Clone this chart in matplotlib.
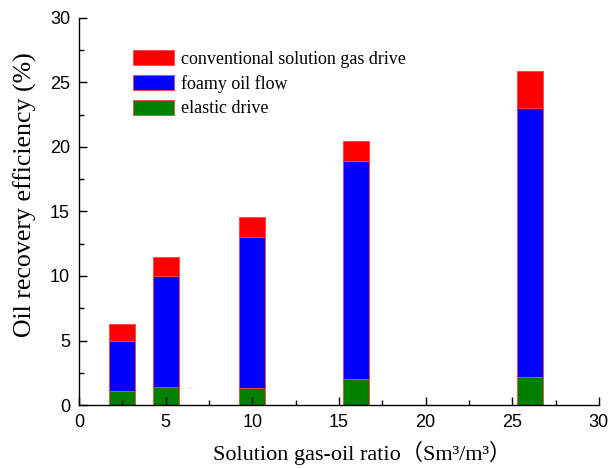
import matplotlib
matplotlib.use("Agg")
import matplotlib.pyplot as plt
from matplotlib.ticker import MultipleLocator

# Solution gas-oil ratio (Sm3/m3) for each test
gor = [2.5, 5, 10, 16, 26]
# Recovery contributions (%) by mechanism, stacked bottom to top
elastic = [1.1, 1.4, 1.3, 2.0, 2.2]
foamy_top = [5.0, 10.0, 13.0, 18.9, 23.0]
total = [6.3, 11.5, 14.6, 20.5, 25.9]

foamy = [f - e for f, e in zip(foamy_top, elastic)]
conventional = [t - f for t, f in zip(total, foamy_top)]

serif = ["Liberation Serif", "DejaVu Serif"]
sans = ["Liberation Sans", "DejaVu Sans"]

fig = plt.figure(figsize=(6.08, 4.68), dpi=100)
ax = fig.add_axes([0.130, 0.1346, 0.855, 0.827])

w = 1.5
edge = dict(edgecolor="#ff4040", linewidth=0.6)
b_el = ax.bar(gor, elastic, width=w, color="#008000", **edge)
b_fo = ax.bar(gor, foamy, width=w, bottom=elastic, color="#0000ff", **edge)
b_cv = ax.bar(gor, conventional, width=w, bottom=foamy_top, color="#ff0000", **edge)

ax.set_xlim(0, 30)
ax.set_ylim(0, 30)
ax.xaxis.set_major_locator(MultipleLocator(5))
ax.xaxis.set_minor_locator(MultipleLocator(2.5))
ax.yaxis.set_major_locator(MultipleLocator(5))
ax.yaxis.set_minor_locator(MultipleLocator(2.5))
ax.tick_params(which="major", direction="in", length=6, width=1, labelsize=13, pad=6.5)
ax.tick_params(which="minor", direction="in", length=3.5, width=1)
for lab in ax.get_xticklabels() + ax.get_yticklabels():
    lab.set_family(sans)

for s in ("top", "right"):
    ax.spines[s].set_visible(False)
for s in ("left", "bottom"):
    ax.spines[s].set_linewidth(1)

ax.set_xlabel("Solution gas-oil ratio（Sm³/m³）", family=["Liberation Serif", "Noto Sans CJK SC"],
              fontsize=16, labelpad=7)
ax.xaxis.label.set_x(0.544)
ax.set_ylabel("Oil recovery efficiency (%)", family=serif, fontsize=18.6)
ax.yaxis.set_label_coords(-0.081, 0.543)

leg = ax.legend([b_cv, b_fo, b_el],
                ["conventional solution gas drive", "foamy oil flow", "elastic drive"],
                loc="upper left", bbox_to_anchor=(0.09, 0.935), frameon=False,
                prop={"family": serif, "size": 13}, handlelength=2.27, handleheight=0.9,
                handletextpad=0.4, labelspacing=0.38, borderaxespad=0)

fig.savefig("out.png", dpi=100)
